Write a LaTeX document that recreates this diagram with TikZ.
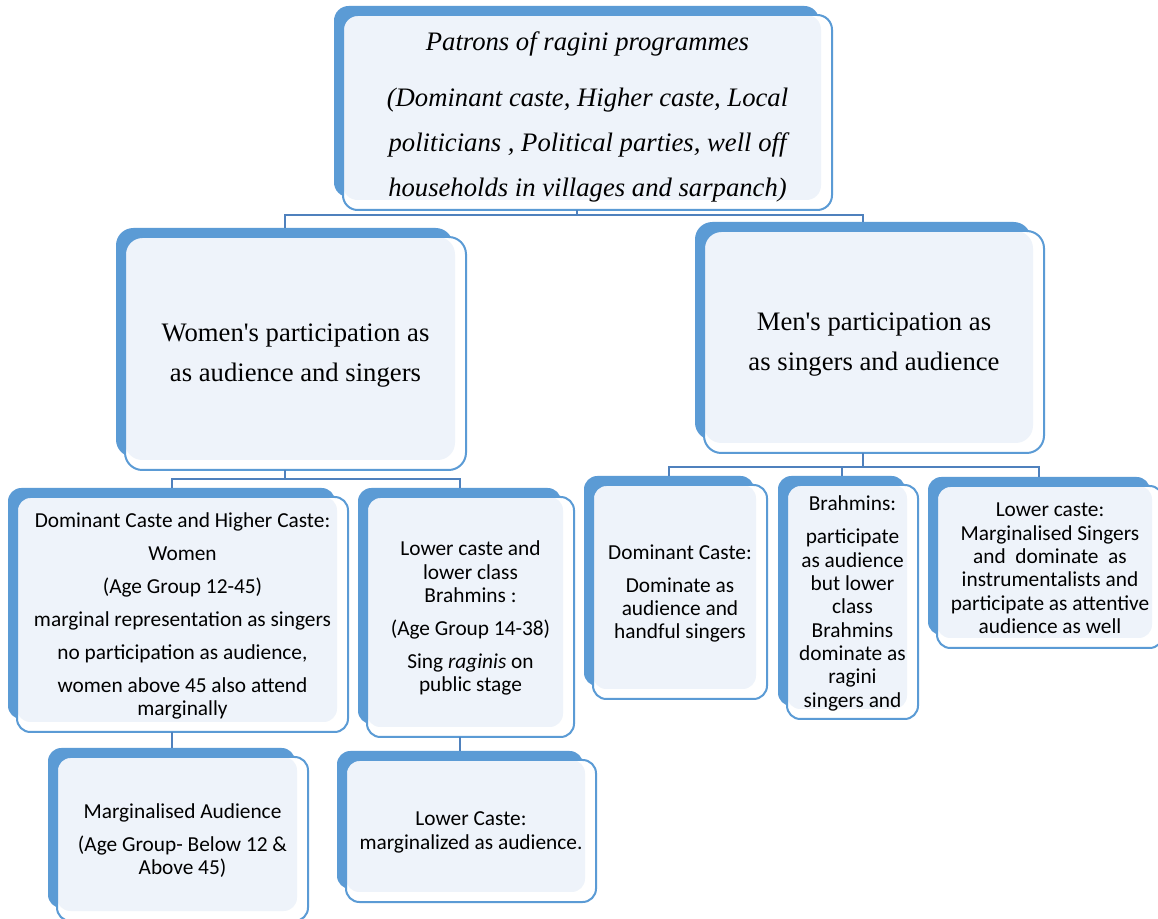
\documentclass[tikz,border=0pt]{standalone}
\usepackage{fontspec}
\setmainfont{Liberation Serif}
\newfontfamily\calfont{Carlito}
\usetikzlibrary{fit}
\definecolor{backblue}{HTML}{5B9BD5}
\definecolor{lightfill}{HTML}{EEF3FA}
\definecolor{edgeblue}{HTML}{5B9BD5}
\definecolor{connblue}{HTML}{4F81BD}
\tikzset{
  conn/.style={draw=connblue, line width=1.5pt},
  serifit/.style={font=\itshape\fontsize{20}{33.75}\selectfont, align=center, yshift=-3.4pt},
  serifup/.style={font=\fontsize{20}{30}\selectfont, align=center, yshift=-1.9pt},
  calib/.style={font=\calfont\fontsize{16}{17.5}\selectfont, align=center, yshift=-1.0pt},
}
% #1 name, #2 x1, #3 y1, #4 x2, #5 y2 (outline), #6 radius, #7 text style, #8 text
\newcommand\makebluebox[8]{%
  \fill[backblue, rounded corners=#6] (#2-9,#3-9) rectangle (#4-13,#5-13);
  \fill[white, rounded corners=#6] (#2,#3) rectangle (#4,#5);
  \fill[lightfill, rounded corners=#6] (#2,#3) rectangle (#4-11,#5-10);
  \draw[edgeblue, line width=1.5pt, rounded corners=#6] (#2,#3) rectangle (#4,#5);
  \node[fit={(#2-9,#3-9)(#4-13,#5-13)}, inner sep=0pt] (#1b) {};
  \node[fit={(#2,#3)(#4,#5)}, inner sep=0pt] (#1) {};
  \node[inner sep=0pt, #7] (#1t) at (#1.center) {#8};
}
\begin{document}
\begin{tikzpicture}[x=0.75pt, y=-0.75pt]
\useasboundingbox (0,0) rectangle (1158,919);
\fill[white] (0,0) rectangle (1158,919);

\makebluebox{top}{343}{15}{832}{210}{11pt}{serifit}{Patrons of ragini programmes\\[8.25pt]
 (Dominant caste, Higher caste, Local\\ politicians , Political parties, well off\\ households in villages and sarpanch)}
\makebluebox{wom}{125}{237}{466}{470}{13pt}{serifup}{Women\textquotesingle s participation as\\ as audience and singers}
\makebluebox{men}{704}{231}{1044}{453}{13pt}{serifup}{Men\textquotesingle s participation as\\ as singers and audience}
\makebluebox{dom}{17}{497}{348}{732}{10pt}{calib}{Dominant Caste and Higher Caste:\\[7.25pt] Women\\[7.25pt] (Age Group 12-45)\\[7.25pt]
 marginal representation as singers\\[7.25pt] no participation as audience,\\[7.25pt] women above 45 also attend\\ marginally}
\makebluebox{lcb}{367}{497}{574}{737}{10pt}{calib}{Lower caste and\\ lower class\\ Brahmins :\\[7.25pt] (Age Group 14-38)\\[7.25pt]
 Sing \textit{raginis} on\\ public stage}
\makebluebox{marg}{57}{757}{308}{921}{10pt}{calib}{Marginalised Audience\\[7.25pt] (Age Group- Below 12 \&\\ Above 45)}
\makebluebox{low}{346}{760}{596}{902}{10pt}{calib}{Lower Caste:\\ marginalized as audience.}
\makebluebox{dc}{593}{485}{767}{699}{10pt}{calib}{Dominant Caste:\\[7.25pt] Dominate as\\ audience and\\ handful singers}
\makebluebox{br}{787}{485}{918}{719}{10pt}{calib}{Brahmins:\\[7.25pt] participate\\ as audience\\ but lower\\ class\\ Brahmins\\ dominate as\\ ragini\\ singers and}
\makebluebox{lcr}{937}{486}{1163}{648}{10pt}{calib}{Lower caste:\\ Marginalised Singers\\ and~ dominate~ as\\ instrumentalists and\\ participate as attentive\\ audience as well}

% connectors
\coordinate (bus1) at (0,215);
\coordinate (bus2) at (0,479);
\coordinate (bus3) at (0,467);
\draw[conn] (topb.south |- top.south) -- (topb.south |- bus1);
\draw[conn] (womb.north) -- (womb.north |- bus1) -- (menb.north |- bus1) -- (menb.north);
\draw[conn] (womb.south |- wom.south) -- (womb.south |- bus2);
\draw[conn] (domb.north) -- (domb.north |- bus2) -- (lcbb.north |- bus2) -- (lcbb.north);
\draw[conn] (menb.south |- men.south) -- (menb.south |- bus3);
\draw[conn] (dcb.north) -- (dcb.north |- bus3) -- (lcrb.north |- bus3) -- (lcrb.north);
\draw[conn] (brb.north) -- (brb.north |- bus3);
\draw[conn] (domb.south |- dom.south) -- (margb.north);
\draw[conn] (lcbb.south |- lcb.south) -- (lcbb.south |- lowb.north);
\end{tikzpicture}
\end{document}
